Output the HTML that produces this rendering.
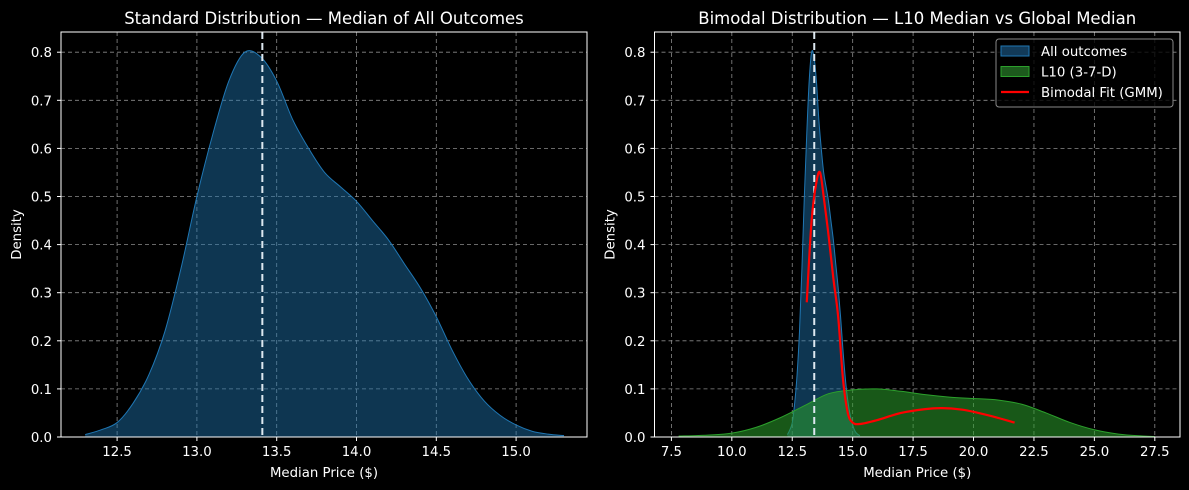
<!DOCTYPE html>
<html><head><meta charset="utf-8"><style>
html,body{margin:0;padding:0;background:#000;}
svg{display:block;font-family:"DejaVu Sans","Liberation Sans",sans-serif;}
</style></head>
<body>
<svg id="chart" width="1189" height="490" viewBox="0 0 1189 490" xmlns="http://www.w3.org/2000/svg">
<rect width="1189" height="490" fill="#000"/>
</svg>
<script>
// Left panel data
const leftX = [12.3,12.4,12.5,12.6,12.7,12.8,12.9,13.0,13.1,13.2,13.3,13.4,13.5,13.6,13.7,13.8,13.9,14.0,14.1,14.2,14.3,14.4,14.5,14.6,14.7,14.8,14.9,15.0,15.1,15.2,15.3];
const leftY = [0.005,0.015,0.03,0.07,0.13,0.22,0.35,0.50,0.63,0.74,0.80,0.79,0.74,0.66,0.60,0.55,0.52,0.49,0.45,0.41,0.36,0.31,0.25,0.18,0.12,0.075,0.045,0.025,0.012,0.006,0.003];
const leftMedian = 13.41;
const leftXTicks = [12.5,13.0,13.5,14.0,14.5,15.0];
const yTicks = [0.0,0.1,0.2,0.3,0.4,0.5,0.6,0.7,0.8];
// Right panel data
const greenX = [7.8,9,10,11,12,13,14,15,16,17,18,19,20,21,22,23,24,25,26,27,27.5];
const greenY = [0.002,0.004,0.008,0.02,0.04,0.065,0.09,0.098,0.1,0.095,0.088,0.083,0.08,0.077,0.068,0.05,0.03,0.015,0.006,0.002,0.001];
const gmmX = [13.1,13.3,13.5,13.65,13.8,14.0,14.2,14.4,14.6,14.8,15.0,15.3,16,17,18,18.7,19.5,20.2,21,21.7];
const gmmY = [0.28,0.45,0.53,0.55,0.5,0.42,0.33,0.25,0.12,0.05,0.03,0.027,0.035,0.05,0.058,0.06,0.057,0.05,0.04,0.03];
const rightMedian = 13.41;
const rightXTicks = [7.5,10.0,12.5,15.0,17.5,20.0,22.5,25.0,27.5];

const NS="http://www.w3.org/2000/svg";
const svg=document.getElementById('chart');
function el(tag,attrs,parent){const e=document.createElementNS(NS,tag);for(const k in attrs)e.setAttribute(k,attrs[k]);(parent||svg).appendChild(e);return e;}
const plotTop=32,plotBottom=437;
function yScale(v){return plotBottom-v*481;}
function smooth(pts){
  let d='';
  for(let i=0;i<pts.length-1;i++){
    const p0=pts[Math.max(0,i-1)],p1=pts[i],p2=pts[i+1],p3=pts[Math.min(pts.length-1,i+2)];
    const c1=[p1[0]+(p2[0]-p0[0])/6,p1[1]+(p2[1]-p0[1])/6];
    const c2=[p2[0]-(p3[0]-p1[0])/6,p2[1]-(p3[1]-p1[1])/6];
    d+=` C${c1[0]},${c1[1]} ${c2[0]},${c2[1]} ${p2[0]},${p2[1]}`;
  }
  return d;
}

function panel(name,x0,x1,dx0,dx1,xt){
  const xs=v=>x0+(v-dx0)/(dx1-dx0)*(x1-x0);
  const g=el('g',{});
  
  
  xt.forEach(t=>{const l=el('line',{x1:xs(t),x2:xs(t),y1:plotTop,y2:plotBottom,stroke:'#8a8a8a','stroke-dasharray':'4,3','stroke-width':0.8},g);
    
    });
  yTicks.forEach(t=>{const l=el('line',{x1:x0,x2:x1,y1:yScale(t),y2:yScale(t),stroke:'#8a8a8a','stroke-dasharray':'4,3','stroke-width':0.8},g);
    
    });
  return {g,xs};
}
function area(g,xs,X,Y,fill,stroke,name,op){
  const pts=X.map((x,i)=>[xs(x),yScale(Y[i])]);
  const curve=smooth(pts);
  const d='M'+pts[0][0]+','+yScale(0)+' L'+pts[0][0]+','+pts[0][1]+curve+' L'+pts[pts.length-1][0]+','+yScale(0)+'Z';
  const p=el('path',{d,fill,'fill-opacity':op},g);
  
  
  const l=el('path',{d:'M'+pts[0][0]+','+pts[0][1]+curve,fill:'none',stroke,'stroke-width':1},g);
  
  
}
function axes(g,x0,x1,xs,xt,title){
  const r=el('rect',{x:x0,y:plotTop,width:x1-x0,height:plotBottom-plotTop,fill:'none',stroke:'#fff','stroke-width':1},g);
  
  
  xt.forEach(t=>{el('line',{x1:xs(t),x2:xs(t),y1:plotBottom,y2:plotBottom+4,stroke:'#fff'},g);
    const tx=el('text',{x:xs(t),y:plotBottom+19,fill:'#fff','font-size':13.3,'text-anchor':'middle'},g);tx.textContent=t.toFixed(1);
    
    });
  yTicks.forEach(t=>{el('line',{x1:x0-4,x2:x0,y1:yScale(t),y2:yScale(t),stroke:'#fff'},g);
    const tx=el('text',{x:x0-9,y:yScale(t)+5,fill:'#fff','font-size':13.3,'text-anchor':'end'},g);tx.textContent=t.toFixed(1);
    
    });
  const xl=el('text',{x:(x0+x1)/2,y:477,fill:'#fff','font-size':13.3,'text-anchor':'middle'},g);xl.textContent='Median Price ($)';
  
  
  const yl=el('text',{x:0,y:0,fill:'#fff','font-size':13.3,'text-anchor':'middle',transform:`translate(${x0-40},${(plotTop+plotBottom)/2}) rotate(-90)`},g);yl.textContent='Density';
  
  
  const tt=el('text',{x:(x0+x1)/2,y:24,fill:'#fff','font-size':16.5,'text-anchor':'middle'},g);tt.textContent=title;
  
  
}
function median(g,xs,m){
  const l=el('line',{x1:xs(m),x2:xs(m),y1:plotTop,y2:plotBottom,stroke:'#dde8f0','stroke-width':2,'stroke-dasharray':'7,4'},g);
  
  
}

// Left
const L=panel('left-panel',61,587,12.5-(117.1-61)/159.6,12.5+(587-117.1)/159.6,leftXTicks);
area(L.g,L.xs,leftX,leftY,'#1f77b4','#1f77b4','all-outcomes',0.45);
median(L.g,L.xs,leftMedian);
axes(L.g,61,587,L.xs,leftXTicks,'Standard Distribution — Median of All Outcomes');

// Right
const R=panel('right-panel',654.5,1180,7.5-(671.4-654.5)/24.17,7.5+(1180-671.4)/24.17,rightXTicks);
area(R.g,R.xs,leftX,leftY,'#1f77b4','#1f77b4','all-outcomes',0.45);
area(R.g,R.xs,greenX,greenY,'#2ca02c','#2ca02c','l10',0.55);
median(R.g,R.xs,rightMedian);
const gpts=gmmX.map((x,i)=>[R.xs(x),yScale(gmmY[i])]);
const gp=el('path',{d:'M'+gpts[0][0]+','+gpts[0][1]+smooth(gpts),fill:'none',stroke:'#ff0000','stroke-width':2.2,'stroke-linejoin':'round'},R.g);


axes(R.g,654.5,1180,R.xs,rightXTicks,'Bimodal Distribution — L10 Median vs Global Median');

// Legend
const lg=el('g',{});


el('rect',{x:996,y:39,width:177,height:68,rx:3,fill:'#000','fill-opacity':0.8,stroke:'#888'},lg);
const items=[['All outcomes','#1f77b4','#123a58'],['L10 (3-7-D)','#2ca02c','#1d5a1d'],['Bimodal Fit (GMM)','#ff0000',null]];
items.forEach((it,i)=>{
  const y=51+i*20.5;
  if(it[2]){el('rect',{x:1001,y:y-5,width:28,height:10,fill:it[2],stroke:it[1]},lg);}
  else{el('line',{x1:1001,x2:1029,y1:y,y2:y,stroke:it[1],'stroke-width':2.2},lg);}
  const t=el('text',{x:1041,y:y+5,fill:'#fff','font-size':13.3},lg);t.textContent=it[0];
  
  
});
</script>
</body></html>
